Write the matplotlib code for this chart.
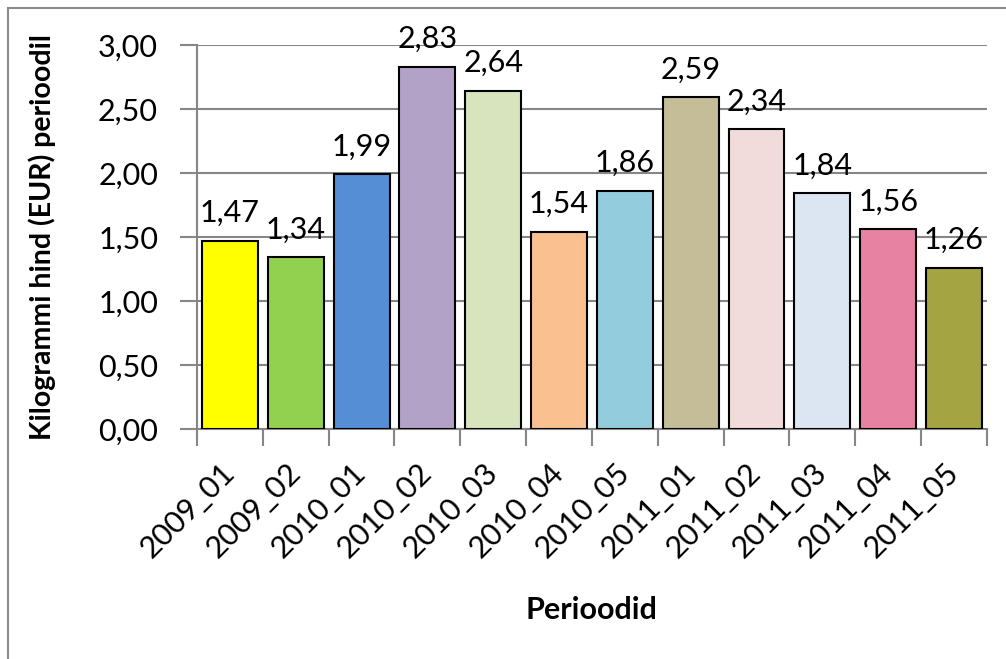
import matplotlib.pyplot as plt
from matplotlib.patches import Rectangle

plt.rcParams['font.family'] = ['Lato', 'DejaVu Sans']

# andmed
perioodid = ['2009_01', '2009_02', '2010_01', '2010_02', '2010_03', '2010_04',
             '2010_05', '2011_01', '2011_02', '2011_03', '2011_04', '2011_05']
hinnad = [1.47, 1.34, 1.99, 2.83, 2.64, 1.54, 1.86, 2.59, 2.34, 1.84, 1.56, 1.26]
varvid = ['#FFFF00', '#92D050', '#558ED5', '#B3A2C7', '#D7E4BD', '#FAC090',
          '#93CDDD', '#C4BD97', '#F2DCDB', '#DCE6F2', '#E882A2', '#A4A542']
y_ticks = [0.0, 0.5, 1.0, 1.5, 2.0, 2.5, 3.0]

fs = 22

fig = plt.figure(figsize=(10.06, 6.59), dpi=100)
ax = fig.add_axes([0.1958, 0.349, 0.7852, 0.5827])

# välimine raam
fig.patches.append(Rectangle((8 / 1006, -0.1), 1.2, 1 - 8 / 659 + 0.1,
                             transform=fig.transFigure, fill=False,
                             edgecolor='#8C8C8C', linewidth=1.5))

x = range(len(perioodid))
ax.bar(x, hinnad, width=0.85, color=varvid, edgecolor='black',
       linewidth=1.5, zorder=3)

for i, v in enumerate(hinnad):
    ax.annotate(f'{v:.2f}'.replace('.', ','), (i, v), xytext=(0, 10),
                textcoords='offset points', ha='center', va='bottom',
                fontsize=fs, zorder=4)

ax.set_xlim(-0.5, len(perioodid) - 0.5)
ax.set_ylim(0, 3.0)
ax.set_yticks(y_ticks)
ax.set_yticklabels([f'{t:.2f}'.replace('.', ',') for t in y_ticks], fontsize=fs)
ax.set_xticks([i - 0.5 for i in range(len(perioodid) + 1)])
ax.set_xticklabels([])
ax.set_xticks(list(x), minor=True)
ax.set_xticklabels(perioodid, minor=True, rotation=45, ha='right',
                   va='center', rotation_mode='anchor', fontsize=fs)
ax.tick_params(axis='x', which='minor', length=0, pad=28)
ax.tick_params(axis='both', which='major', length=12, width=1.5,
               color='#868686', direction='out')
ax.tick_params(axis='y', pad=16)

ax.grid(axis='y', color='#868686', linewidth=1.5, zorder=0)
for s in ['top', 'right']:
    ax.spines[s].set_visible(False)
for s in ['left', 'bottom']:
    ax.spines[s].set_color('#868686')
    ax.spines[s].set_linewidth(1.5)

ax.set_xlabel('Perioodid', fontsize=22, fontweight='bold', labelpad=24)
ax.set_ylabel('Kilogrammi hind (EUR) perioodil', fontsize=20.5,
              fontweight='bold', labelpad=30)

fig.savefig('out.png', dpi=100)
